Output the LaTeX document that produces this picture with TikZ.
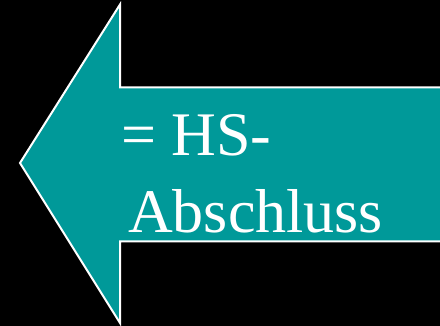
\documentclass[tikz,border=0pt]{standalone}
\usepackage{fontspec}
\setmainfont{Liberation Serif}
\definecolor{teal}{HTML}{009999}
\tikzset{
  arrowshape/.style={fill=teal, draw=white, line width=2pt, line join=miter},
  label/.style={text=white, font=\fontsize{62}{77}\selectfont, inner sep=0pt, anchor=base west}
}
\begin{document}
\begin{tikzpicture}[x=1pt,y=-1pt]
  \fill[black] (0,0) rectangle (440,326);
  \useasboundingbox (0,0) rectangle (440,326);
  \draw[arrowshape] (460,87.5) -- (120,87.5) -- (120,4.5) -- (20,163) -- (120,323) -- (120,241.5) -- (460,241.5);
  \node[label] (l1) at (121,156) {= HS-};
  \node[label] (l2) at (128,233) {Abschluss};
\end{tikzpicture}
\end{document}
